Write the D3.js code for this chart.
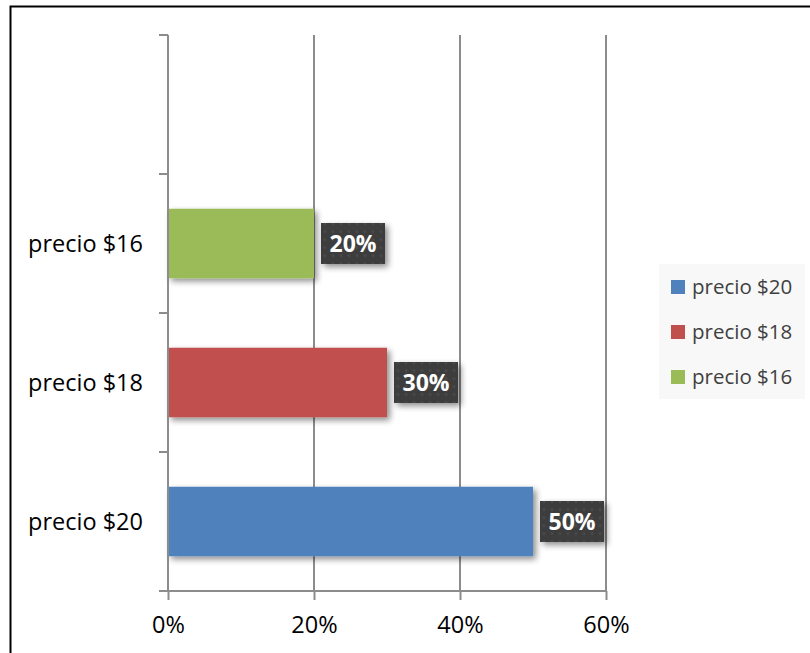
<!DOCTYPE html>
<html>
<head>
<meta charset="utf-8">
<script src="https://cdn.jsdelivr.net/npm/d3@7/dist/d3.min.js"></script>
<style>
  html, body { margin: 0; padding: 0; background: #fff; }
  svg { display: block; font-family: "Open Sans", "Noto Sans", sans-serif; }
</style>
</head>
<body>
<svg id="chart" width="810" height="653"></svg>
<script>
// Categories from bottom to top; the top slot is left empty
const categories = ["precio $20", "precio $18", "precio $16", ""];
const values = [0.50, 0.30, 0.20];
const seriesNames = ["precio $20", "precio $18", "precio $16"];
const colors = ["#4f81bd", "#c0504d", "#9bbb59"];
const xTicks = [0, 0.2, 0.4, 0.6];

const svg = d3.select("#chart");
const defs = svg.append("defs");

// Soft drop shadow for bars and value labels
const shadow = defs.append("filter").attr("id", "shadow")
  .attr("x", "-30%").attr("y", "-30%").attr("width", "170%").attr("height", "170%");
shadow.append("feGaussianBlur").attr("in", "SourceAlpha").attr("stdDeviation", 3).attr("result", "b");
shadow.append("feOffset").attr("in", "b").attr("dx", 3).attr("dy", 3).attr("result", "o");
shadow.append("feComponentTransfer").attr("in", "o").attr("result", "s")
  .append("feFuncA").attr("type", "linear").attr("slope", 0.45);
const merge = shadow.append("feMerge");
merge.append("feMergeNode").attr("in", "s");
merge.append("feMergeNode").attr("in", "SourceGraphic");

// Dotted dark texture for value label boxes
const pat = defs.append("pattern").attr("id", "dots")
  .attr("width", 8).attr("height", 8).attr("patternUnits", "userSpaceOnUse");
pat.append("rect").attr("width", 8).attr("height", 8).attr("fill", "#3c3c3c");
pat.append("circle").attr("cx", 4).attr("cy", 4).attr("r", 1.6).attr("fill", "#4a4a4a");

// Outer frame
svg.append("rect")
  .attr("x", 10.5).attr("y", 6.5).attr("width", 820).attr("height", 700)
  .attr("fill", "none").attr("stroke", "#000").attr("stroke-width", 2);

const plot = { left: 168, right: 606, top: 35, bottom: 591 };

const x = d3.scaleLinear().domain([0, 0.6]).range([plot.left, plot.right]);
const y = d3.scaleBand().domain(categories).range([plot.bottom, plot.top]).paddingInner(0.5).paddingOuter(0.25);
const yBand = d3.scaleBand().domain(categories).range([plot.bottom, plot.top]);

// Vertical gridlines
svg.append("g").selectAll("line").data(xTicks.slice(1)).join("line")
  .attr("x1", d => x(d)).attr("x2", d => x(d))
  .attr("y1", plot.top).attr("y2", plot.bottom)
  .attr("stroke", "#8c8c8c").attr("stroke-width", 2);

// Bars
svg.append("g").selectAll("rect").data(values).join("rect")
  .attr("x", x(0))
  .attr("y", (d, i) => y(categories[i]))
  .attr("width", d => x(d) - x(0))
  .attr("height", y.bandwidth())
  .attr("fill", (d, i) => colors[i])
  .attr("filter", "url(#shadow)");

// Axes
const xAxis = d3.axisBottom(x).tickValues(xTicks).tickFormat(d3.format(".0%")).tickSize(9).tickPadding(16);
const gx = svg.append("g").attr("transform", `translate(0,${plot.bottom})`).call(xAxis);
gx.select(".domain").attr("stroke", "#8c8c8c").attr("stroke-width", 2).attr("d", `M${plot.left - 9},0H${plot.right}`);
gx.selectAll(".tick line").attr("stroke", "#8c8c8c").attr("stroke-width", 2);
gx.selectAll("text").attr("font-size", 23.5).attr("fill", "#000").attr("font-family", "Open Sans, sans-serif");

// Category axis: ticks at band boundaries
const boundaries = d3.range(categories.length + 1).map(i => plot.bottom - i * yBand.step());
const gy = svg.append("g");
gy.append("line").attr("x1", plot.left).attr("x2", plot.left)
  .attr("y1", plot.top).attr("y2", plot.bottom)
  .attr("stroke", "#8c8c8c").attr("stroke-width", 2);
gy.selectAll("line.t").data(boundaries).join("line").attr("class", "t")
  .attr("x1", plot.left - 9).attr("x2", plot.left)
  .attr("y1", d => d).attr("y2", d => d)
  .attr("stroke", "#8c8c8c").attr("stroke-width", 2);
gy.selectAll("text").data(categories.filter(c => c)).join("text")
  .attr("x", 143)
  .attr("y", d => yBand(d) + yBand.bandwidth() / 2)
  .attr("dy", "0.35em")
  .attr("text-anchor", "end")
  .attr("font-size", 23.5)
  .attr("fill", "#000")
  .text(d => d);

// Value labels in dark boxes
const lbl = svg.append("g").selectAll("g").data(values).join("g")
  .attr("transform", (d, i) => `translate(${x(d) + 7},${y(categories[i]) + y.bandwidth() / 2})`);
lbl.append("rect")
  .attr("x", 0).attr("y", -20.5).attr("width", 64).attr("height", 41)
  .attr("fill", "url(#dots)").attr("filter", "url(#shadow)");
lbl.append("text")
  .attr("x", 32).attr("y", 0).attr("dy", "0.36em")
  .attr("text-anchor", "middle")
  .attr("font-size", 23).attr("font-weight", "bold").attr("fill", "#fff")
  .text(d => d3.format(".0%")(d));

// Legend
const legend = svg.append("g").attr("transform", "translate(659,264)");
legend.append("rect").attr("width", 146).attr("height", 135).attr("fill", "#f8f8f8");
const items = legend.selectAll("g").data(seriesNames).join("g")
  .attr("transform", (d, i) => `translate(12,${23 + i * 45})`);
items.append("rect").attr("x", 0).attr("y", -7).attr("width", 14).attr("height", 14)
  .attr("fill", (d, i) => colors[i]);
items.append("text").attr("x", 21).attr("y", 0).attr("dy", "0.35em")
  .attr("font-size", 20.5).attr("fill", "#404040").text(d => d);
</script>
</body>
</html>
